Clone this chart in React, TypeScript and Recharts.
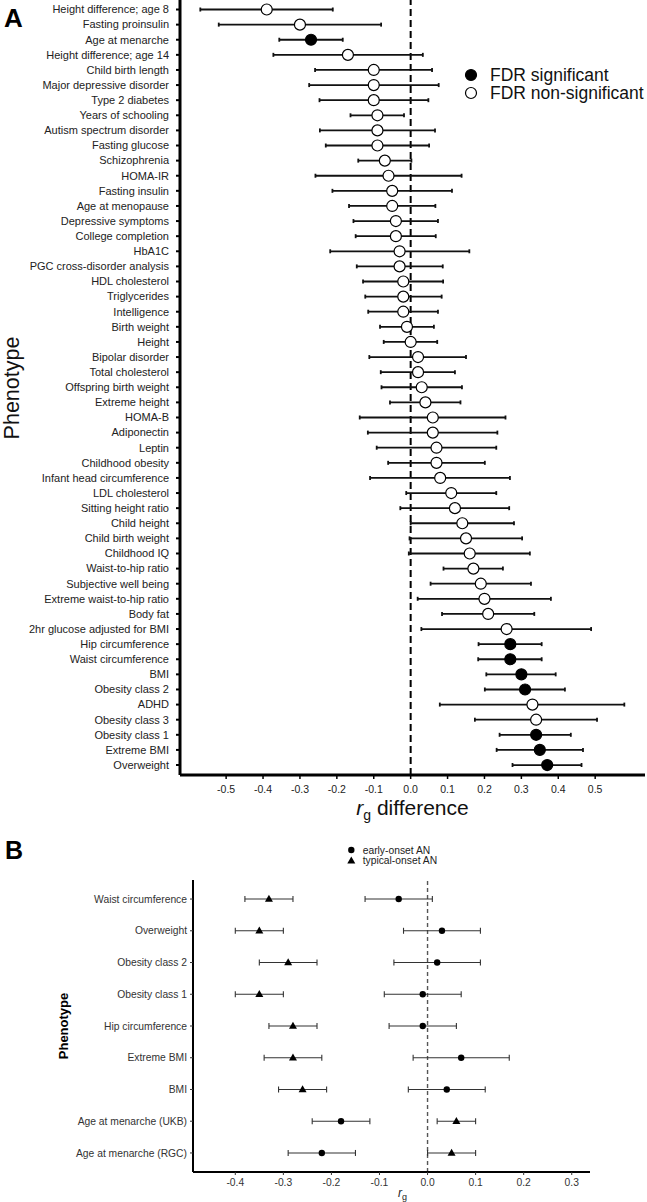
import React from 'react';
import { ScatterChart, Scatter, XAxis, YAxis, ErrorBar, ReferenceLine } from 'recharts';

const FONT = "'Liberation Sans', Arial, Helvetica, sans-serif";

// panel A: rg difference per phenotype (top to bottom)
const phenotypesA = [
  'Height difference; age 8', 'Fasting proinsulin', 'Age at menarche', 'Height difference; age 14',
  'Child birth length', 'Major depressive disorder', 'Type 2 diabetes', 'Years of schooling',
  'Autism spectrum disorder', 'Fasting glucose', 'Schizophrenia', 'HOMA-IR', 'Fasting insulin',
  'Age at menopause', 'Depressive symptoms', 'College completion', 'HbA1C',
  'PGC cross-disorder analysis', 'HDL cholesterol', 'Triglycerides', 'Intelligence', 'Birth weight',
  'Height', 'Bipolar disorder', 'Total cholesterol', 'Offspring birth weight', 'Extreme height',
  'HOMA-B', 'Adiponectin', 'Leptin', 'Childhood obesity', 'Infant head circumference',
  'LDL cholesterol', 'Sitting height ratio', 'Child height', 'Child birth weight', 'Childhood IQ',
  'Waist-to-hip ratio', 'Subjective well being', 'Extreme waist-to-hip ratio', 'Body fat',
  '2hr glucose adjusted for BMI', 'Hip circumference', 'Waist circumference', 'BMI',
  'Obesity class 2', 'ADHD', 'Obesity class 3', 'Obesity class 1', 'Extreme BMI', 'Overweight',
];
const rgDiffA = [
  -0.39, -0.3, -0.27, -0.17, -0.1, -0.1, -0.1, -0.09, -0.09, -0.09,
  -0.07, -0.06, -0.05, -0.05, -0.04, -0.04, -0.03, -0.03, -0.02, -0.02,
  -0.02, -0.01, 0.0, 0.02, 0.02, 0.03, 0.04, 0.06, 0.06, 0.07,
  0.07, 0.08, 0.11, 0.12, 0.14, 0.15, 0.16, 0.17, 0.19, 0.2,
  0.21, 0.26, 0.27, 0.27, 0.3, 0.31, 0.33, 0.34, 0.34, 0.35, 0.37,
];
const ciLowA = [
  -0.57, -0.52, -0.356, -0.372, -0.259, -0.275, -0.247, -0.163, -0.246, -0.23,
  -0.142, -0.258, -0.212, -0.167, -0.155, -0.149, -0.218, -0.146, -0.129, -0.123,
  -0.115, -0.083, -0.073, -0.112, -0.081, -0.079, -0.056, -0.138, -0.116, -0.092,
  -0.061, -0.11, -0.012, -0.028, 0.0, -0.003, -0.005, 0.089, 0.054, 0.019,
  0.085, 0.029, 0.184, 0.183, 0.205, 0.201, 0.079, 0.174, 0.241, 0.233, 0.276,
];
const ciHighA = [
  -0.211, -0.08, -0.184, 0.033, 0.058, 0.076, 0.048, -0.018, 0.066, 0.05,
  0.002, 0.138, 0.112, 0.067, 0.074, 0.068, 0.159, 0.087, 0.088, 0.084,
  0.074, 0.063, 0.072, 0.15, 0.12, 0.139, 0.135, 0.257, 0.235, 0.232,
  0.201, 0.269, 0.232, 0.267, 0.28, 0.302, 0.323, 0.25, 0.326, 0.38,
  0.335, 0.489, 0.355, 0.355, 0.393, 0.418, 0.579, 0.505, 0.434, 0.467, 0.463,
];
const fdrSignificantA = [
  'Age at menarche', 'Hip circumference', 'Waist circumference', 'BMI',
  'Obesity class 2', 'Obesity class 1', 'Extreme BMI', 'Overweight',
];
const xTicksA = [-0.5, -0.4, -0.3, -0.2, -0.1, 0, 0.1, 0.2, 0.3, 0.4, 0.5];

// panel B: rg by onset group
const phenotypesB = [
  'Waist circumference', 'Overweight', 'Obesity class 2', 'Obesity class 1', 'Hip circumference',
  'Extreme BMI', 'BMI', 'Age at menarche (UKB)', 'Age at menarche (RGC)',
];
const earlyRg = [-0.06, 0.03, 0.02, -0.01, -0.01, 0.07, 0.04, -0.18, -0.22];
const earlyLow = [-0.13, -0.05, -0.07, -0.09, -0.08, -0.03, -0.04, -0.24, -0.29];
const earlyHigh = [0.01, 0.11, 0.11, 0.07, 0.06, 0.17, 0.12, -0.12, -0.15];
const typicalRg = [-0.33, -0.35, -0.29, -0.35, -0.28, -0.28, -0.26, 0.06, 0.05];
const typicalLow = [-0.38, -0.4, -0.35, -0.4, -0.33, -0.34, -0.31, 0.02, 0.0];
const typicalHigh = [-0.28, -0.3, -0.23, -0.3, -0.23, -0.22, -0.21, 0.1, 0.1];
const xTicksB = [-0.4, -0.3, -0.2, -0.1, 0, 0.1, 0.2, 0.3];

const dataA = phenotypesA.map((name, i) => ({
  name,
  row: i,
  rg: rgDiffA[i],
  err: [rgDiffA[i] - ciLowA[i], ciHighA[i] - rgDiffA[i]],
  sig: fdrSignificantA.includes(name),
}));

const toRows = (rg: number[], lo: number[], hi: number[]) =>
  phenotypesB.map((name, i) => ({ name, row: i, rg: rg[i], err: [rg[i] - lo[i], hi[i] - rg[i]] }));
const earlyData = toRows(earlyRg, earlyLow, earlyHigh);
const typicalData = toRows(typicalRg, typicalLow, typicalHigh);

const FdrDot = (props: any) => {
  const { cx, cy, payload } = props;
  return <circle cx={cx} cy={cy} r={5.5} fill={payload.sig ? '#000' : '#fff'} stroke="#000" strokeWidth={1.2} />;
};

const SmallDot = (props: any) => <circle cx={props.cx} cy={props.cy} r={3.2} fill="#000" />;

const SmallTri = (props: any) => {
  const { cx, cy } = props;
  return <path d={`M${cx},${cy - 4.2} L${cx + 4},${cy + 2.8} L${cx - 4},${cy + 2.8} Z`} fill="#000" />;
};

// plain svg text ticks (no wrapping)
const NameTick = (props: any) => {
  const { x, y, payload, names, size, color } = props;
  return (
    <text x={x} y={y} dy={size * 0.35} textAnchor="end" fontFamily={FONT} style={{ fontFamily: FONT }} fontSize={size} fill={color}>
      {names[payload.value]}
    </text>
  );
};

const NumTick = (props: any) => {
  const { x, y, payload, size, color } = props;
  return (
    <text x={x} y={y} dy={size * 0.72} textAnchor="middle" fontFamily={FONT} style={{ fontFamily: FONT }} fontSize={size} fill={color}>
      {Number(payload.value).toFixed(1)}
    </text>
  );
};

export default function App() {
  return (
    <div style={{ position: 'absolute', left: 0, top: 0, width: 647, height: 1202, background: '#fff', fontFamily: FONT }}>
      <div style={{ position: 'absolute', left: 0, top: 0 }}>
        <ScatterChart width={647} height={830} margin={{ top: 0, right: 2, bottom: 0, left: 0 }}>
          <XAxis
            type="number"
            dataKey="rg"
            domain={[-0.625, 0.635]}
            ticks={xTicksA}
            axisLine={{ stroke: '#000', strokeWidth: 3 }}
            tickLine={{ stroke: '#000', strokeWidth: 1.5 }}
            tickSize={4}
            tickMargin={6}
            tick={<NumTick size={10.5} color="#222" />}
            height={55}
            label={({ viewBox }: any) => (
              <text x={viewBox.x + viewBox.width / 2} y={815} textAnchor="middle" fontFamily={FONT} fontSize={21} fill="#111">
                <tspan fontStyle="italic">r</tspan>
                <tspan fontSize={14} dy={5}>g</tspan>
                <tspan dy={-5}> difference</tspan>
              </text>
            )}
          />
          <YAxis
            type="number"
            dataKey="row"
            domain={[-0.63, 50.66]}
            reversed
            ticks={dataA.map((d) => d.row)}
            interval={0}
            axisLine={{ stroke: '#000', strokeWidth: 3 }}
            tickLine={{ stroke: '#000', strokeWidth: 2 }}
            tickSize={4}
            tickMargin={7}
            tick={<NameTick names={phenotypesA} size={11} color="#222" />}
            width={180}
            label={() => (
              <text x={19} y={388} transform="rotate(-90 19 388)" textAnchor="middle" fontFamily={FONT} fontSize={21.5} fill="#111">
                Phenotype
              </text>
            )}
          />
          <ReferenceLine x={0} stroke="#000" strokeWidth={2} strokeDasharray="7 4" />
          <Scatter data={dataA} shape={<FdrDot />} isAnimationActive={false}>
            <ErrorBar dataKey="err" direction="x" width={2} stroke="#111" strokeWidth={1.8} />
          </Scatter>
        </ScatterChart>
      </div>

      <div style={{ position: 'absolute', left: 0, top: 830 }}>
        <ScatterChart width={647} height={372} margin={{ top: 50, right: 57, bottom: 0, left: 0 }}>
          <XAxis
            type="number"
            dataKey="rg"
            domain={[-0.488, 0.338]}
            ticks={xTicksB}
            axisLine={{ stroke: '#000', strokeWidth: 2 }}
            tickLine={{ stroke: '#333', strokeWidth: 1 }}
            tickSize={3}
            tickMargin={4}
            tick={<NumTick size={10.3} color="#333" />}
            height={30}
            label={({ viewBox }: any) => (
              <text x={viewBox.x + viewBox.width / 2 + 11} y={1197 - 830} textAnchor="middle" fontFamily={FONT} fontSize={12} fill="#222">
                <tspan fontStyle="italic">r</tspan>
                <tspan fontSize={9} dy={3}>g</tspan>
              </text>
            )}
          />
          <YAxis
            type="number"
            dataKey="row"
            domain={[-0.6, 8.6]}
            reversed
            ticks={earlyData.map((d) => d.row)}
            interval={0}
            axisLine={{ stroke: '#000', strokeWidth: 2 }}
            tickLine={{ stroke: '#333', strokeWidth: 1 }}
            tickSize={3}
            tickMargin={3}
            tick={<NameTick names={phenotypesB} size={10.3} color="#333" />}
            width={193}
            label={() => (
              <text x={68} y={1026 - 830} transform={`rotate(-90 68 ${1026 - 830})`} textAnchor="middle" fontFamily={FONT} fontSize={13} fontWeight="bold" fill="#000">
                Phenotype
              </text>
            )}
          />
          <ReferenceLine x={0} stroke="#555" strokeWidth={1.4} strokeDasharray="4 3" />
          <Scatter name="early-onset AN" data={earlyData} shape={<SmallDot />} isAnimationActive={false}>
            <ErrorBar dataKey="err" direction="x" width={3} stroke="#333" strokeWidth={1.1} />
          </Scatter>
          <Scatter name="typical-onset AN" data={typicalData} shape={<SmallTri />} isAnimationActive={false}>
            <ErrorBar dataKey="err" direction="x" width={3} stroke="#333" strokeWidth={1.1} />
          </Scatter>
        </ScatterChart>
      </div>

      <svg width={647} height={1202} style={{ position: 'absolute', left: 0, top: 0, pointerEvents: 'none' }}>
        <text x={4} y={26.7} fontFamily={FONT} fontSize={26} fontWeight="bold" fill="#000">A</text>
        <text x={5} y={859} fontFamily={FONT} fontSize={25} fontWeight="bold" fill="#000">B</text>

        <circle cx={471} cy={75} r={5.5} fill="#000" stroke="#000" strokeWidth={1.2} />
        <text x={490} y={81.3} fontFamily={FONT} fontSize={17.5} fill="#111">FDR significant</text>
        <circle cx={471} cy={93} r={5.5} fill="#fff" stroke="#000" strokeWidth={1.2} />
        <text x={490} y={99.3} fontFamily={FONT} fontSize={17.5} fill="#111">FDR non-significant</text>

        <circle cx={351.3} cy={850} r={3.2} fill="#000" />
        <text x={362.7} y={853.7} fontFamily={FONT} fontSize={10.3} fill="#222">early-onset AN</text>
        <path d="M351.3,856.5 L355.3,863.5 L347.3,863.5 Z" fill="#000" />
        <text x={362.7} y={864.4} fontFamily={FONT} fontSize={10.3} fill="#222">typical-onset AN</text>
      </svg>
    </div>
  );
}
